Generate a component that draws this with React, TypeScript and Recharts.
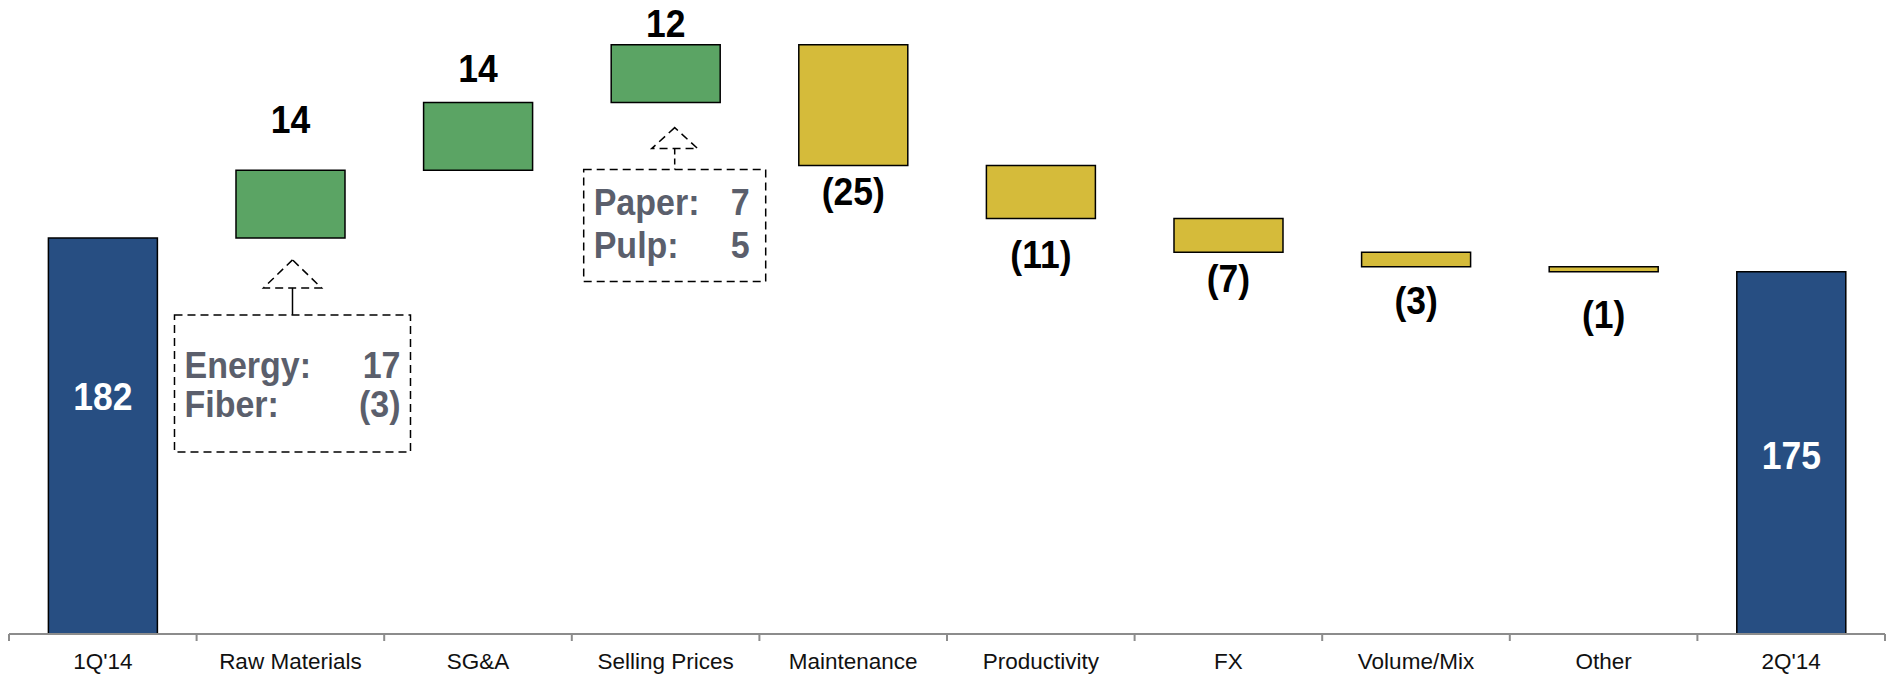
import React from "react";
import { BarChart, Bar, XAxis, YAxis, Cell, LabelList } from "recharts";

// ---------- data ----------
const categories = ["1Q'14", "Raw Materials", "SG&A", "Selling Prices", "Maintenance", "Productivity", "FX", "Volume/Mix", "Other", "2Q'14"];
const changes = [182, 14, 14, 12, -25, -11, -7, -3, -1, 175];
const kinds = ["total", "up", "up", "up", "down", "down", "down", "down", "down", "total"];

const rawMaterialsLabels = ["Energy:", "Fiber:"];
const rawMaterialsValues = [17, -3];
const sellingPricesLabels = ["Paper:", "Pulp:"];
const sellingPricesValues = [7, 5];

// ---------- layout / style ----------
const W = 1889;
const H = 677;
const margin = { top: 6, right: 4, left: 9, bottom: 13 };
const X_AXIS_H = 30;
const AXIS_Y = H - margin.bottom - X_AXIS_H;
const BAND = (W - margin.left - margin.right) / categories.length;
const FONT = "'Liberation Sans', Arial, Helvetica, sans-serif";
const COLORS: Record<string, string> = { total: "#274E82", up: "#5BA464", down: "#D5BB3A" };
// label distance from the relevant bar edge (top for totals/ups, bottom for downs)
const labelGap = [172, 37, 21, 8, 40, 49, 40, 47, 56, 197];
const STRETCH = 1.08;

const fmt = (v: number) => (v < 0 ? `(${Math.abs(v)})` : `${v}`);

// build waterfall ranges
let running = 0;
const data = categories.map((name, i) => {
  const v = changes[i];
  let range: [number, number];
  if (kinds[i] === "total") {
    range = [0, v];
    running = v;
  } else {
    const start = running;
    const end = running + v;
    range = [Math.min(start, end), Math.max(start, end)];
    running = end;
  }
  return { name, range, kind: kinds[i], value: v };
});

const callouts: Record<number, any> = {
  1: {
    labels: rawMaterialsLabels, values: rawMaterialsValues,
    apexDy: 22, triH: 28, triHalf: 29, stemSolid: true,
    boxTopDy: 77, boxLeft: -116, boxRight: 120, boxH: 137,
    padL: 10, padR: 10, firstBaseline: 63, lineGap: 39,
  },
  3: {
    labels: sellingPricesLabels, values: sellingPricesValues,
    apexDy: 25, triH: 21, triHalf: 23, stemSolid: false,
    boxTopDy: 67, boxLeft: -82, boxRight: 100, boxH: 112,
    padL: 10, padR: 16, firstBaseline: 45, lineGap: 43,
  },
};

const SText = ({ x, y, anchor, size, fill, children }: any) => (
  <text
    transform={`translate(${x},${y}) scale(1,${STRETCH})`}
    x={0}
    y={0}
    textAnchor={anchor}
    fontFamily={FONT}
    fontWeight="bold"
    fontSize={size}
    fill={fill}
  >
    {children}
  </text>
);

const renderCallout = (cx: number, bottom: number, c: any) => {
  const left = cx + c.boxLeft;
  const right = cx + c.boxRight;
  const mid = (left + right) / 2;
  const apexY = bottom + c.apexDy;
  const baseY = apexY + c.triH;
  const boxTop = bottom + c.boxTopDy;
  const dash = "8 5";
  return (
    <g>
      <polygon
        points={`${mid},${apexY} ${mid - c.triHalf},${baseY} ${mid + c.triHalf},${baseY}`}
        fill="none" stroke="#000" strokeWidth={1.5} strokeDasharray={dash}
      />
      <line x1={mid} x2={mid} y1={baseY} y2={boxTop} stroke="#000" strokeWidth={1.5}
        strokeDasharray={c.stemSolid ? undefined : "6 4"} />
      <rect x={left} y={boxTop} width={right - left} height={c.boxH}
        fill="none" stroke="#000" strokeWidth={1.5} strokeDasharray={dash} />
      {c.labels.map((lab: string, j: number) => (
        <g key={j}>
          <SText x={left + c.padL} y={boxTop + c.firstBaseline + j * c.lineGap} anchor="start" size={34} fill="#5B5F6C">{lab}</SText>
          <SText x={right - c.padR} y={boxTop + c.firstBaseline + j * c.lineGap} anchor="end" size={34} fill="#5B5F6C">{fmt(c.values[j])}</SText>
        </g>
      ))}
    </g>
  );
};

const renderLabel = (props: any) => {
  const { x, y, width, height, index } = props;
  const top = Math.min(y, y + height);
  const bottom = Math.max(y, y + height);
  const cx = x + width / 2;
  const kind = kinds[index];
  const v = changes[index];
  let ty: number;
  let fill = "#000";
  if (kind === "total") {
    ty = top + labelGap[index];
    fill = "#fff";
  } else if (kind === "up") {
    ty = top - labelGap[index];
  } else {
    ty = bottom + labelGap[index];
  }
  return (
    <g>
      <SText x={cx} y={ty} anchor="middle" size={35.5} fill={fill}>{fmt(v)}</SText>
      {callouts[index] ? renderCallout(cx, bottom, callouts[index]) : null}
    </g>
  );
};

const renderTick = (props: any) => {
  const { x, payload, index } = props;
  const last = index === categories.length - 1;
  return (
    <g>
      <line x1={x - BAND / 2} x2={x - BAND / 2} y1={AXIS_Y} y2={AXIS_Y + 7} stroke="#8C8C8C" strokeWidth={2} />
      {last ? <line x1={x + BAND / 2} x2={x + BAND / 2} y1={AXIS_Y} y2={AXIS_Y + 7} stroke="#8C8C8C" strokeWidth={2} /> : null}
      <text x={x} y={AXIS_Y + 35} textAnchor="middle" fontFamily={FONT} fontSize={22.5} fill="#111">
        {payload.value}
      </text>
    </g>
  );
};

export default function App() {
  return (
    <div style={{ position: "absolute", left: 0, top: 0, width: W, height: H, background: "#fff" }}>
      <BarChart width={W} height={H} data={data} margin={margin} barCategoryGap="21%">
        <XAxis dataKey="name" type="category" height={X_AXIS_H} tickSize={0} tickMargin={0}
          axisLine={{ stroke: "#8C8C8C", strokeWidth: 2 }} tickLine={false} tick={renderTick} interval={0} />
        <YAxis hide type="number" domain={[100, 230]} allowDataOverflow />
        <Bar dataKey="range" isAnimationActive={false} stroke="#000" strokeWidth={1.5}>
          {data.map((d, i) => (
            <Cell key={i} fill={COLORS[d.kind]} />
          ))}
          <LabelList dataKey="range" content={renderLabel} />
        </Bar>
      </BarChart>
    </div>
  );
}
